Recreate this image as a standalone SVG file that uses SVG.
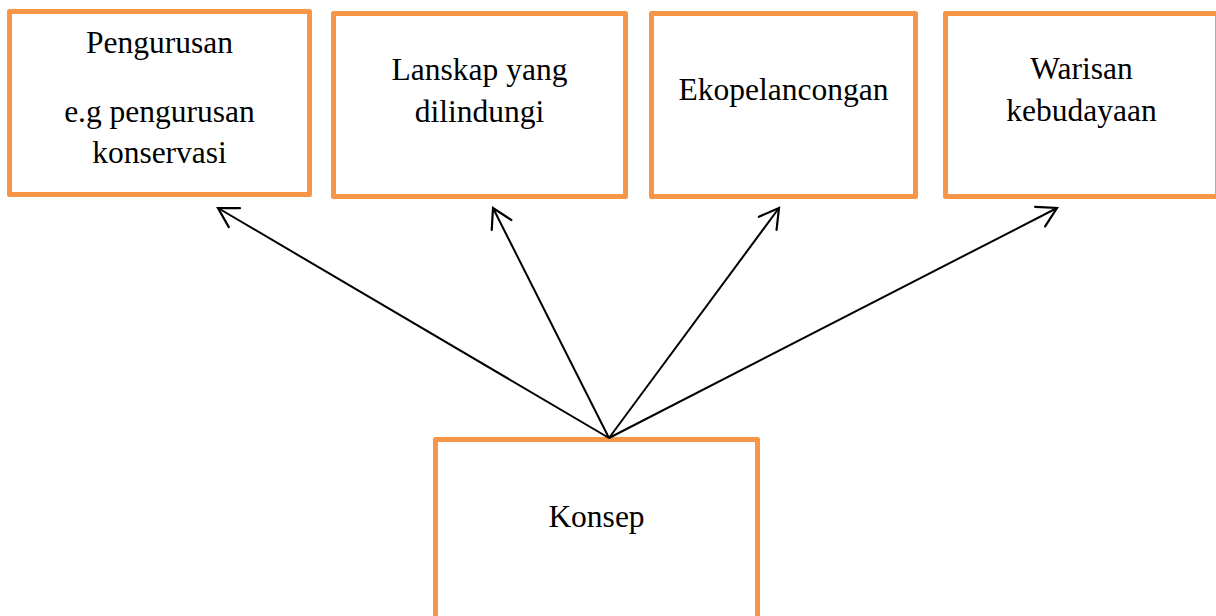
<svg xmlns="http://www.w3.org/2000/svg" width="1216" height="616" viewBox="0 0 1216 616">
<style>
.box{fill:#ffffff;stroke:#F79646;stroke-width:5;stroke-linejoin:round}
.t{font-family:"Liberation Serif","Times New Roman",serif;font-size:31.5px;fill:#000000;text-anchor:middle}
.c{stroke:#000000;stroke-width:2;fill:none}
</style>
<defs>
<marker id="arr" markerUnits="userSpaceOnUse" markerWidth="30" markerHeight="30" viewBox="-25 -15 30 30" refX="0" refY="0" orient="auto">
<path d="M-19,-11 L0,0 L-19,11" fill="none" stroke="#000000" stroke-width="2.2" stroke-linecap="round" stroke-linejoin="miter"/>
</marker>
</defs>
<rect width="1216" height="616" fill="#ffffff"/>
<g id="n1">
<rect class="box" x="9.5" y="11.5" width="300" height="183"/>
<text class="t" x="159.5" y="53">Pengurusan</text>
<text class="t" x="159.5" y="122">e.g pengurusan</text>
<text class="t" x="159.5" y="163">konservasi</text>
</g>
<g id="n2">
<rect class="box" x="333.5" y="13.5" width="292" height="183"/>
<text class="t" x="479.5" y="80">Lanskap yang</text>
<text class="t" x="479.5" y="122">dilindungi</text>
</g>
<g id="n3">
<rect class="box" x="651.5" y="13.5" width="264" height="183"/>
<text class="t" x="783.5" y="100">Ekopelancongan</text>
</g>
<g id="n4">
<rect class="box" x="945.5" y="13.5" width="272" height="183"/>
<text class="t" x="1081.5" y="79">Warisan</text>
<text class="t" x="1081.5" y="121">kebudayaan</text>
</g>
<g id="n5">
<rect class="box" x="435.5" y="439.5" width="322" height="200"/>
<text class="t" x="596.5" y="527">Konsep</text>
</g>
<g id="connectors">
<line class="c" x1="609" y1="438" x2="218" y2="208" marker-end="url(#arr)"/>
<line class="c" x1="609" y1="438" x2="493" y2="208" marker-end="url(#arr)"/>
<line class="c" x1="609" y1="438" x2="779" y2="208" marker-end="url(#arr)"/>
<line class="c" x1="609" y1="438" x2="1057" y2="208" marker-end="url(#arr)"/>
</g>
</svg>
